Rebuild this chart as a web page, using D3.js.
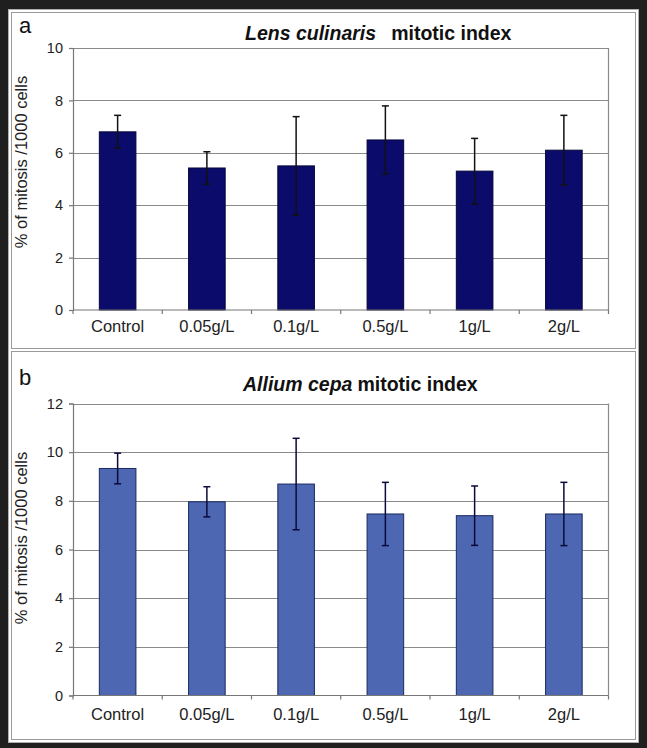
<!DOCTYPE html>
<html>
<head>
<meta charset="utf-8">
<script src="https://cdn.jsdelivr.net/npm/d3@7"></script>
<style>
  html, body { margin: 0; padding: 0; background: #1f1f1f; }
  svg { display: block; font-family: "Liberation Sans", Arial, sans-serif; }
</style>
</head>
<body>
<svg id="chart" width="647" height="748"></svg>
<script>
// ---- data ----
const categories = ["Control", "0.05g/L", "0.1g/L", "0.5g/L", "1g/L", "2g/L"];
const lensValues = [6.8, 5.42, 5.5, 6.49, 5.3, 6.1];
const lensErrors = [0.63, 0.62, 1.88, 1.3, 1.25, 1.33];
const alliumValues = [9.33, 7.96, 8.69, 7.46, 7.39, 7.46];
const alliumErrors = [0.63, 0.62, 1.88, 1.3, 1.22, 1.3];
const lensTicks = [0, 2, 4, 6, 8, 10];
const alliumTicks = [0, 2, 4, 6, 8, 10, 12];
const yLabel = "% of mitosis /1000 cells";

const svg = d3.select("#chart");

// frame
svg.append("rect").attr("x", 0).attr("y", 0).attr("width", 647).attr("height", 748).attr("fill", "#1f1f1f");
svg.append("rect").attr("x", 8.5).attr("y", 9.5).attr("width", 630).attr("height", 733)
  .attr("fill", "#ffffff").attr("stroke", "#b0b0b0").attr("stroke-width", 1);

const panels = [
  { letter: "a", italic: "Lens culinaris", rest: "mitotic index", gap: 15,
    values: lensValues, errors: lensErrors, ticks: lensTicks, max: 10,
    fill: "#0b0b6b", stroke: "#05053a", errColor: "#111",
    box: [11.5, 12.5, 624, 336], top: 48, bottom: 310,
    letterY: 33, titleY: 40, titleX: 245, catY: 332, ylabY: 162 },
  { letter: "b", italic: "Allium cepa", rest: "mitotic index", gap: 5,
    values: alliumValues, errors: alliumErrors, ticks: alliumTicks, max: 12,
    fill: "#4e67b3", stroke: "#1b2a60", errColor: "#0a0a3a",
    box: [11.5, 351.5, 624, 388], top: 403.5, bottom: 695.5,
    letterY: 385, titleY: 391, titleX: 243, catY: 720, ylabY: 538 }
];

const left = 73, right = 608.5;

panels.forEach(p => {
  const g = svg.append("g");
  g.append("rect").attr("x", p.box[0]).attr("y", p.box[1]).attr("width", p.box[2]).attr("height", p.box[3])
    .attr("fill", "#fff").attr("stroke", "#9a9a9a").attr("stroke-width", 1);

  const x = d3.scaleBand().domain(categories).range([left, right]).paddingInner(0.59).paddingOuter(0.295);
  const y = d3.scaleLinear().domain([0, p.max]).range([p.bottom, p.top]);

  // gridlines
  g.append("g").selectAll("line").data(p.ticks.filter(t => t > 0)).join("line")
    .attr("x1", left).attr("x2", right)
    .attr("y1", d => Math.round(y(d)) + 0.5).attr("y2", d => Math.round(y(d)) + 0.5)
    .attr("stroke", "#8a8a8a").attr("stroke-width", 1.2);
  // right border of plot area
  g.append("line").attr("x1", right).attr("x2", right).attr("y1", y(p.max)).attr("y2", y(0))
    .attr("stroke", "#8a8a8a").attr("stroke-width", 1.2);

  // y axis
  const yAxis = d3.axisLeft(y).tickValues(p.ticks).tickSize(4).tickPadding(6);
  const ya = g.append("g").attr("transform", `translate(${left},0)`).call(yAxis);
  ya.select(".domain").attr("stroke", "#777").attr("stroke-width", 1.2);
  ya.selectAll(".tick line").attr("stroke", "#777").attr("stroke-width", 1.2);
  ya.selectAll(".tick text").attr("font-size", 14.5).attr("fill", "#222")
    .attr("font-family", "'Liberation Sans', Arial, sans-serif");

  // bars
  g.append("g").selectAll("rect").data(categories).join("rect")
    .attr("x", d => x(d)).attr("width", x.bandwidth())
    .attr("y", (d, i) => y(p.values[i])).attr("height", (d, i) => y(0) - y(p.values[i]))
    .attr("fill", p.fill).attr("stroke", p.stroke).attr("stroke-width", 1);

  // error bars
  const eb = g.append("g").attr("stroke", p.errColor).attr("stroke-width", 1.5);
  categories.forEach((c, i) => {
    const cx = x(c) + x.bandwidth() / 2;
    const hi = y(p.values[i] + p.errors[i]), lo = y(p.values[i] - p.errors[i]);
    eb.append("line").attr("x1", cx).attr("x2", cx).attr("y1", hi).attr("y2", lo);
    eb.append("line").attr("x1", cx - 3.5).attr("x2", cx + 3.5).attr("y1", hi).attr("y2", hi);
    eb.append("line").attr("x1", cx - 3.5).attr("x2", cx + 3.5).attr("y1", lo).attr("y2", lo);
  });

  // x axis with ticks at category boundaries
  g.append("line").attr("x1", left).attr("x2", right).attr("y1", y(0)).attr("y2", y(0))
    .attr("stroke", "#777").attr("stroke-width", 1.2);
  const bounds = d3.range(categories.length + 1).map(i => left + i * x.step());
  g.append("g").selectAll("line").data(bounds).join("line")
    .attr("x1", d => d).attr("x2", d => d).attr("y1", y(0)).attr("y2", y(0) + 4)
    .attr("stroke", "#777").attr("stroke-width", 1.2);
  g.append("g").selectAll("text").data(categories).join("text")
    .attr("x", d => x(d) + x.bandwidth() / 2).attr("y", p.catY)
    .attr("text-anchor", "middle").attr("font-size", 16.5).attr("fill", "#222")
    .text(d => d);

  // y label
  g.append("text").attr("transform", `translate(27,${p.ylabY}) rotate(-90)`)
    .attr("text-anchor", "middle").attr("font-size", 16.5).attr("fill", "#222").text(yLabel);

  // panel letter
  g.append("text").attr("x", 19).attr("y", p.letterY).attr("font-size", 22).attr("fill", "#111").text(p.letter);

  // title
  const t = g.append("text").attr("x", p.titleX).attr("y", p.titleY).attr("font-size", 19.5)
    .attr("font-weight", "bold").attr("fill", "#111");
  t.append("tspan").attr("font-style", "italic").text(p.italic);
  t.append("tspan").attr("dx", p.gap).text(p.rest);
});
</script>
</body>
</html>
